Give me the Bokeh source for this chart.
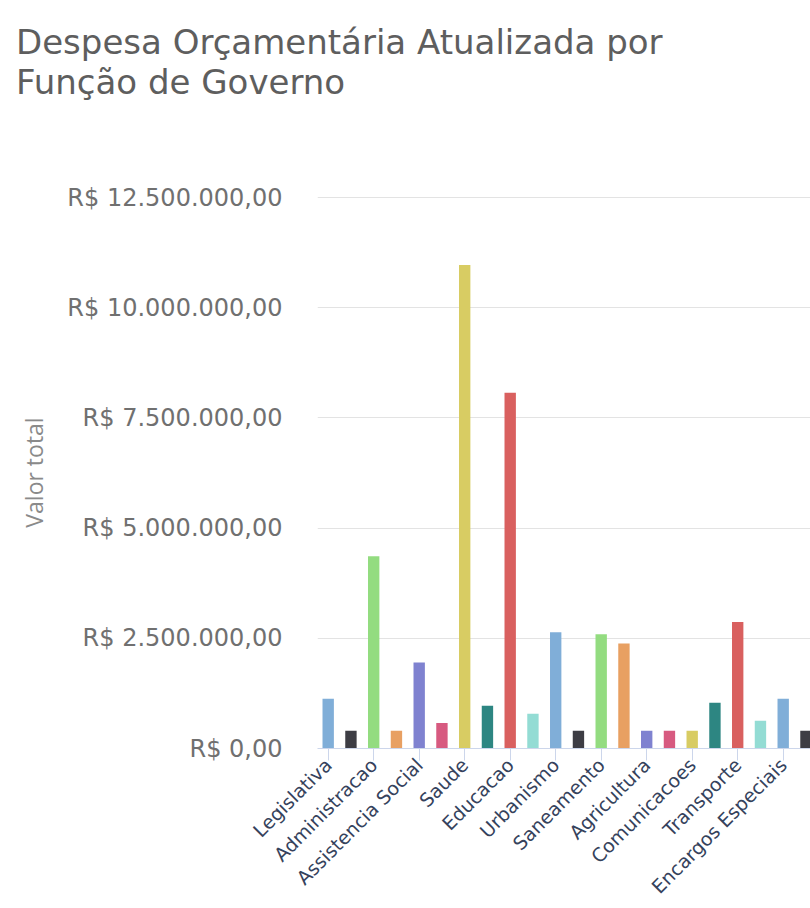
import math
from bokeh.plotting import figure
from bokeh.models import FixedTicker, Div, ColumnDataSource, Range1d
from bokeh.layouts import column
from bokeh.embed import file_html
from bokeh.resources import INLINE

# ---- data -------------------------------------------------------------
titulo = ["Despesa Orçamentária Atualizada por", "Função de Governo"]
eixo_y_titulo = "Valor total"

funcoes = [
    "Legislativa", "Judiciaria", "Administracao", "Seguranca Publica",
    "Assistencia Social", "Previdencia Social", "Saude", "Trabalho",
    "Educacao", "Cultura", "Urbanismo", "Habitacao", "Saneamento",
    "Gestao Ambiental", "Agricultura", "Industria", "Comunicacoes",
    "Energia", "Transporte", "Desporto e Lazer", "Encargos Especiais",
    "Reserva de Contingencia",
]
valores = [
    1130000, 400000, 4360000, 400000, 1950000, 580000, 10970000, 970000,
    8070000, 790000, 2640000, 400000, 2590000, 2380000, 400000, 400000,
    400000, 1040000, 2870000, 630000, 1130000, 400000,
]
y_ticks = [0, 2500000, 5000000, 7500000, 10000000, 12500000]
y_tick_labels = ["R$ 0,00", "R$ 2.500.000,00", "R$ 5.000.000,00",
                 "R$ 7.500.000,00", "R$ 10.000.000,00", "R$ 12.500.000,00"]
passo_rotulos = 2

paleta = ["#80aed8", "#3d3d44", "#93dc80", "#e8a062", "#7f82d0",
          "#d75a80", "#d8cc63", "#2d8682", "#d9605f", "#93dcd4"]

# ---- build ------------------------------------------------------------
xs = list(range(len(funcoes)))
cores = [paleta[i % len(paleta)] for i in xs]
src = ColumnDataSource(dict(x=xs, valor=valores, cor=cores, nome=funcoes))

title_div = Div(
    text="<br>".join(titulo),
    width=810, height=140, margin=(0, 0, 0, 0),
    styles={
        "font-family": "'DejaVu Sans', sans-serif",
        "font-size": "34px",
        "line-height": "40px",
        "color": "#5e5e5e",
        "padding-top": "22px",
        "padding-left": "16px",
        "white-space": "nowrap",
    },
)

p = figure(
    width=810, height=768,
    x_range=Range1d(-0.47, 21.2), y_range=Range1d(0, 12522700),
    output_backend="svg", toolbar_location=None,
    min_border_left=317, min_border_top=56, min_border_bottom=160,
    min_border_right=0, margin=(0, 0, 0, 0),
)
p.outline_line_color = None
p.background_fill_color = "white"
p.border_fill_color = "white"

p.vbar(x="x", top="valor", width=0.5, fill_color="cor", line_color=None,
       source=src)

p.xgrid.visible = False
p.ygrid.grid_line_color = "#e3e3e3"
p.ygrid.grid_line_width = 1

# y axis
p.yaxis.ticker = FixedTicker(ticks=y_ticks)
p.yaxis.major_label_overrides = dict(zip(y_ticks, y_tick_labels))
p.yaxis.axis_line_color = None
p.yaxis.major_tick_line_color = None
p.yaxis.minor_tick_line_color = None
p.yaxis.major_tick_out = 0
p.yaxis.major_tick_in = 0
p.yaxis.major_label_standoff = 35
p.yaxis.major_label_text_font = "DejaVu Sans"
p.yaxis.major_label_text_font_size = "24px"
p.yaxis.major_label_text_color = "#707070"
p.yaxis.axis_label = eixo_y_titulo
p.yaxis.axis_label_text_font = "Open Sans"
p.yaxis.axis_label_text_font_size = "23px"
p.yaxis.axis_label_text_font_style = "normal"
p.yaxis.axis_label_text_color = "#8a8a8a"
p.yaxis.axis_label_standoff = 14

# x axis: ticks and labels only at every second category
x_ticks = xs[::passo_rotulos]
p.xaxis.ticker = FixedTicker(ticks=x_ticks)
p.xaxis.major_label_overrides = {i: funcoes[i] for i in x_ticks}
p.xaxis.major_label_orientation = math.pi / 4
p.xaxis.axis_line_color = "#ccd6eb"
p.xaxis.major_tick_line_color = "#ccd6eb"
p.xaxis.minor_tick_line_color = None
p.xaxis.major_tick_out = 12
p.xaxis.major_tick_in = 0
p.xaxis.major_label_standoff = 1
p.xaxis.major_label_text_font = "DejaVu Sans"
p.xaxis.major_label_text_font_size = "19px"
p.xaxis.major_label_text_color = "#35425c"

layout = column(title_div, p, spacing=0, margin=(0, 0, 0, 0))

with open("out.html", "w") as f:
    f.write(file_html(layout, INLINE))
